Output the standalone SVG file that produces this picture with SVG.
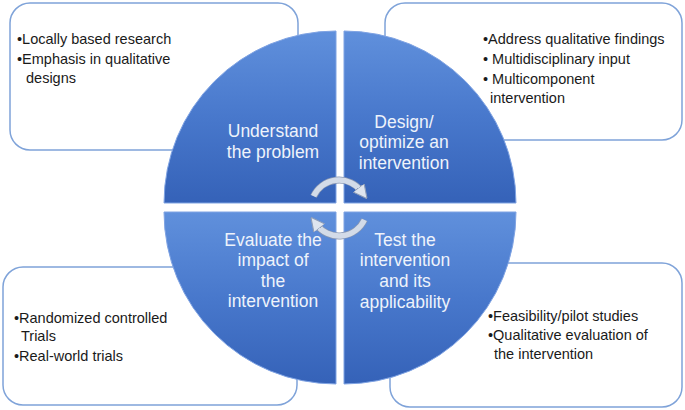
<svg xmlns="http://www.w3.org/2000/svg" width="685" height="410" viewBox="0 0 685 410">
  <defs>
    <linearGradient id="qgrad" x1="0" y1="0" x2="0" y2="1">
      <stop offset="0" stop-color="#6090dc"/>
      <stop offset="0.5" stop-color="#4878cc"/>
      <stop offset="1" stop-color="#3562b8"/>
    </linearGradient>
    <marker id="ah" viewBox="0 0 10 10" markerUnits="userSpaceOnUse" markerWidth="14" markerHeight="14" refX="3" refY="5" orient="auto">
      <path d="M0,0 L10,5 L0,10 Z" fill="#dfe5ef" stroke="#8e9db8" stroke-width="0.8"/>
    </marker>
  </defs>
  <style>
    .box { fill: #ffffff; stroke: #7fa3d9; stroke-width: 1.5; }
    .quad { fill: url(#qgrad); stroke: #7fa3e3; stroke-width: 1; }
    .bt { font-family: "Liberation Sans", Arial, sans-serif; font-size: 14.5px; fill: #1a1a1a; }
    .qt { font-family: "Liberation Sans", Arial, sans-serif; font-size: 17.5px; fill: #eef3fb; text-anchor: middle; }
    .arc { fill: none; stroke: #d3dbe8; stroke-width: 5.5; }
    .arcEdge { fill: none; stroke: #8796b3; stroke-width: 7; }
  </style>

  <g id="box-understand">
    <rect class="box" x="10" y="3" width="288" height="147" rx="20"/>
    <text class="bt" x="17" y="44">•Locally based research</text>
    <text class="bt" x="17" y="64">•Emphasis in qualitative</text>
    <text class="bt" x="26" y="83">designs</text>
  </g>
  <g id="box-design">
    <rect class="box" x="385" y="3" width="297" height="137" rx="20"/>
    <text class="bt" x="483" y="44">•Address qualitative findings</text>
    <text class="bt" x="483" y="64">• Multidisciplinary input</text>
    <text class="bt" x="483" y="84">• Multicomponent</text>
    <text class="bt" x="490" y="103">intervention</text>
  </g>
  <g id="box-evaluate">
    <rect class="box" x="3" y="267" width="294" height="138" rx="20"/>
    <text class="bt" x="14" y="323">•Randomized controlled</text>
    <text class="bt" x="21" y="341">Trials</text>
    <text class="bt" x="14" y="361">•Real-world trials</text>
  </g>
  <g id="box-test">
    <rect class="box" x="390" y="263" width="292" height="144" rx="20"/>
    <text class="bt" x="488" y="321">•Feasibility/pilot studies</text>
    <text class="bt" x="488" y="340">•Qualitative evaluation of</text>
    <text class="bt" x="494" y="359">the intervention</text>
  </g>

  <g id="quad-understand">
    <path class="quad" d="M336,203 L164,203 A172,172 0 0 1 336,31 Z"/>
    <text class="qt" x="273" y="137">Understand</text>
    <text class="qt" x="273" y="158">the problem</text>
  </g>
  <g id="quad-design">
    <path class="quad" d="M344,203 L344,31 A172,172 0 0 1 516,203 Z"/>
    <text class="qt" x="404" y="128">Design/</text>
    <text class="qt" x="404" y="148">optimize an</text>
    <text class="qt" x="404" y="169">intervention</text>
  </g>
  <g id="quad-evaluate">
    <path class="quad" d="M336,212 L336,384 A172,172 0 0 1 164,212 Z"/>
    <text class="qt" x="273" y="246">Evaluate the</text>
    <text class="qt" x="273" y="266">impact of</text>
    <text class="qt" x="273" y="287">the</text>
    <text class="qt" x="273" y="307">intervention</text>
  </g>
  <g id="quad-test">
    <path class="quad" d="M344,212 L516,212 A172,172 0 0 1 344,384 Z"/>
    <text class="qt" x="405" y="246">Test the</text>
    <text class="qt" x="405" y="266">intervention</text>
    <text class="qt" x="405" y="287">and its</text>
    <text class="qt" x="405" y="308">applicability</text>
  </g>

  <g id="connectors">
    <path class="arcEdge" d="M313.6,196.2 A28,28 0 0 1 361.1,191"/>
    <path class="arc" d="M313.6,196.2 A28,28 0 0 1 361.1,191" marker-end="url(#ah)"/>
    <path class="arcEdge" d="M364.4,219.8 A28,28 0 0 1 316.9,225"/>
    <path class="arc" d="M364.4,219.8 A28,28 0 0 1 316.9,225" marker-end="url(#ah)"/>
  </g>
</svg>
